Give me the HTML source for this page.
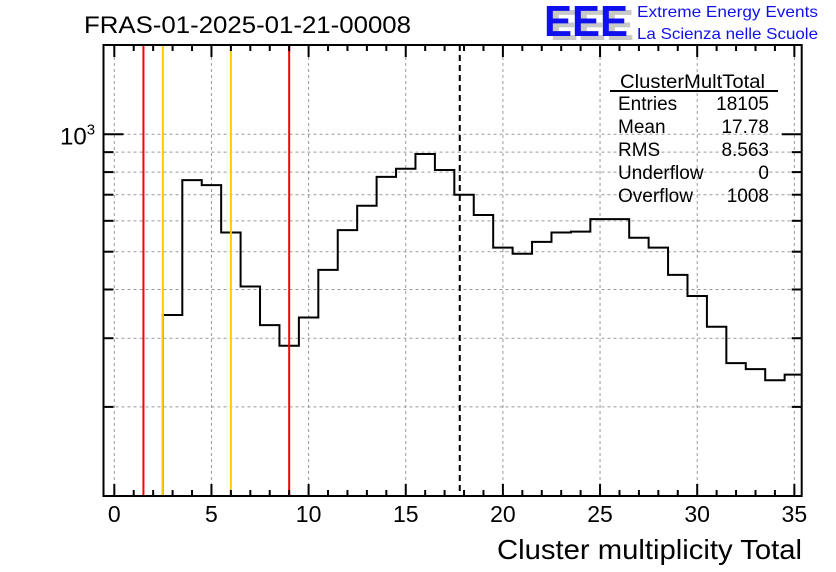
<!DOCTYPE html>
<html><head><meta charset="utf-8"><style>
body{margin:0;background:#fff}
svg{display:block;font-family:"Liberation Sans",sans-serif}
</style></head><body>
<svg id="chart" width="836" height="572" viewBox="0 0 836 572">
<rect width="836" height="572" fill="#fff"/>
<text x="84" y="33" font-size="24" textLength="327" lengthAdjust="spacingAndGlyphs">FRAS-01-2025-01-21-00008</text>
<g>
<text x="550" y="40" font-size="44" font-weight="bold" fill="#c8c8c8" textLength="84" lengthAdjust="spacingAndGlyphs">EEE</text>
<text x="544" y="36" font-size="44" font-weight="bold" fill="#1010ee" textLength="84" lengthAdjust="spacingAndGlyphs">EEE</text>
<text x="637" y="17" font-size="16" fill="#1010ee" textLength="181" lengthAdjust="spacingAndGlyphs">Extreme Energy Events</text>
<text x="637" y="39" font-size="16" fill="#1010ee" textLength="181" lengthAdjust="spacingAndGlyphs">La Scienza nelle Scuole</text>
</g>
<g id="grid"></g>
<g id="marks"></g>
<rect x="103.5" y="45" width="698.2" height="451" fill="none" stroke="#000" stroke-width="2"/>
<g id="axes"></g>
<g font-size="19">
<text x="620" y="88" textLength="145" lengthAdjust="spacingAndGlyphs">ClusterMultTotal</text>
<line x1="610" y1="91" x2="778" y2="91" stroke="#000" stroke-width="2"/>
<text x="618" y="110">Entries</text><text x="769" y="110" text-anchor="end">18105</text>
<text x="618" y="133">Mean</text><text x="769" y="133" text-anchor="end">17.78</text>
<text x="618" y="156">RMS</text><text x="769" y="156" text-anchor="end">8.563</text>
<text x="618" y="179">Underflow</text><text x="769" y="179" text-anchor="end">0</text>
<text x="618" y="202">Overflow</text><text x="769" y="202" text-anchor="end">1008</text>
</g>
<text x="802" y="559" font-size="28" text-anchor="end" textLength="305" lengthAdjust="spacingAndGlyphs">Cluster multiplicity Total</text>
</svg>
<script>
const binCenters=[3,4,5,6,7,8,9,10,11,12,13,14,15,16,17,18,19,20,21,22,23,24,25,26,27,28,29,30,31,32,33,34,35];
const counts=[344,763,741,560,407,324,287,339,449,568,656,778,816,890,810,700,621,512,494,530,560,563,606,606,543,512,436,385,321,259,250,234,242];
const xTicks=[0,5,10,15,20,25,30,35];
const yTicks=[200,300,400,500,600,700,800,900,1000];
const redLines=[1.5,9];
const yellowLines=[2.5,6];
const meanValue=[17.78];

const L=103.5,R=801.7,T=45,B=496;
function X(v){return 114.3+19.43*v;}
function Y(v){return 134.3-390*(Math.log10(v)-3);}
const NS='http://www.w3.org/2000/svg';
function mk(tag,attrs,parent){const e=document.createElementNS(NS,tag);for(const k in attrs)e.setAttribute(k,attrs[k]);parent.appendChild(e);return e;}
const grid=document.getElementById('grid'),marks=document.getElementById('marks'),axes=document.getElementById('axes');
for(const t of xTicks){const g=mk('line',{x1:X(t),x2:X(t),y1:T,y2:B,stroke:'#999','stroke-width':1,'stroke-dasharray':'3,3'},grid);

}
for(const t of yTicks){const g=mk('line',{x1:L,x2:R,y1:Y(t),y2:Y(t),stroke:'#999','stroke-width':1,'stroke-dasharray':'3,3'},grid);

}
let d='';
binCenters.forEach((c,i)=>{const x0=Math.max(L,Math.min(R,X(c-0.5))),x1=Math.min(R,X(c+0.5)),y=Y(counts[i]);
if(i===0)d+='M'+x0+','+B+' L'+x0+','+y;else d+=' L'+x0+','+y;d+=' L'+x1+','+y;});
const h=mk('path',{d:d,fill:'none',stroke:'#000','stroke-width':2},marks);


function vline(v,color,name,dash){const l=mk('line',{x1:X(v),x2:X(v),y1:T,y2:B,stroke:color,'stroke-width':2},marks);if(dash)l.setAttribute('stroke-dasharray',dash);

}
redLines.forEach(v=>vline(v,'#ff0000','red-cut-line'));
yellowLines.forEach(v=>vline(v,'#ffcc00','yellow-cut-line'));
meanValue.forEach(v=>vline(v,'#000','mean-line','6,4'));
for(let v=0;v<=35;v++){const major=v%5===0,len=major?12:6;
mk('line',{x1:X(v),x2:X(v),y1:B,y2:B-len,stroke:'#000','stroke-width':2},axes);
mk('line',{x1:X(v),x2:X(v),y1:T,y2:T+len,stroke:'#000','stroke-width':2},axes);}
for(const t of xTicks){const tx=mk('text',{x:X(t),y:522,'font-size':23,'text-anchor':'middle'},axes);tx.textContent=t;

}
for(const t of yTicks){const len=t===1000?20:10;
mk('line',{x1:L,x2:L+len,y1:Y(t),y2:Y(t),stroke:'#000','stroke-width':2},axes);
mk('line',{x1:R,x2:R-len,y1:Y(t),y2:Y(t),stroke:'#000','stroke-width':2},axes);}
const yl=mk('text',{x:60,y:Y(1000)+10,'font-size':24},axes);yl.innerHTML='10<tspan dy="-10" font-size="15">3</tspan>';


</script>
</body></html>
